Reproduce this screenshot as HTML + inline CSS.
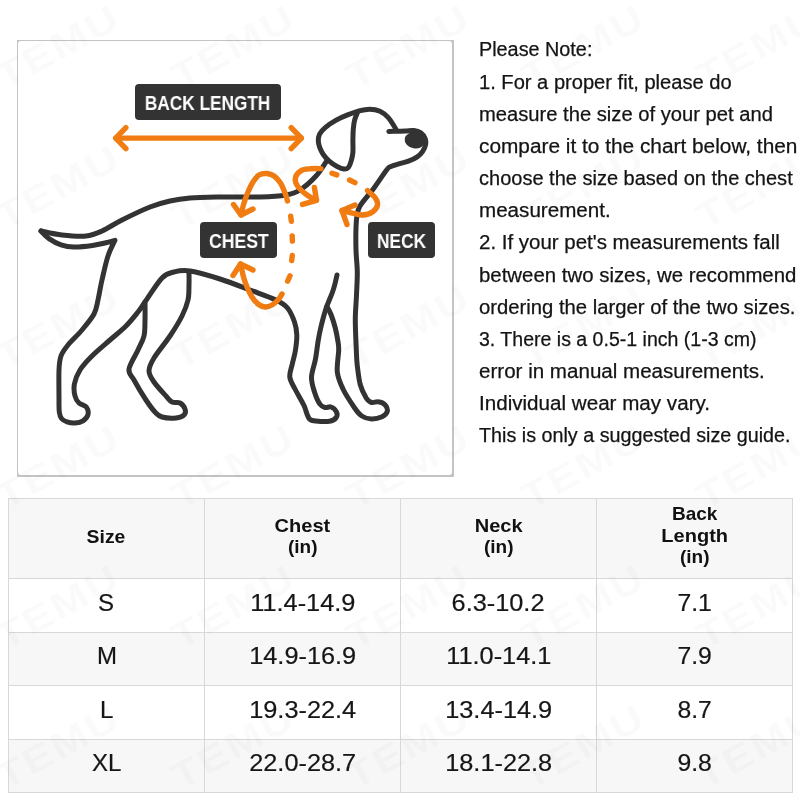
<!DOCTYPE html>
<html>
<head>
<meta charset="utf-8">
<title>Size guide</title>
<style>
html,body{margin:0;padding:0;}
body{width:800px;height:800px;position:relative;overflow:hidden;background:#fff;font-family:"Liberation Sans",sans-serif;color:#1f1f1f;}
#wm{position:absolute;left:0;top:0;width:800px;height:800px;z-index:5;pointer-events:none;}
#box{position:absolute;left:17px;top:40px;width:437px;height:437px;background:#c4c4c4;}
#box i{position:absolute;left:1px;top:1px;right:2px;bottom:2px;background:#fff;border-radius:3px;}
#art{position:absolute;left:0;top:0;width:800px;height:480px;}
.lb{position:absolute;background:#333;border-radius:4px;color:#fff;font-weight:bold;text-align:center;white-space:nowrap;}
.lb span{display:inline-block;transform-origin:50% 50%;will-change:transform;}
.note{position:absolute;left:479px;white-space:nowrap;font-size:19.5px;line-height:32px;height:32px;color:#141414;-webkit-text-stroke:0.25px #141414;}
.note span{display:inline-block;transform-origin:0 50%;will-change:transform;}
#tbl{position:absolute;left:8px;top:498px;width:785px;height:295px;background:#d8d8d8;}
.c{position:absolute;box-sizing:border-box;text-align:center;color:#161616;white-space:nowrap;}
.c span{display:inline-block;transform-origin:50% 50%;will-change:transform;}
.h{font-weight:bold;line-height:22px;color:#111;}
.d{-webkit-text-stroke:0.2px #161616;}
</style>
</head>
<body>
<div id="box"><i></i></div>
<svg id="art" viewBox="0 0 800 480">
<g fill="none" stroke="#333" stroke-width="5" stroke-linecap="round" stroke-linejoin="round">
<path d="M41.0,231.0 C44.5,231.7 54.5,234.2 62.0,235.0 C69.5,235.8 79.3,236.7 86.0,236.0 C92.7,235.3 96.0,233.7 102.0,231.0 C108.0,228.3 114.0,224.0 122.0,220.0 C130.0,216.0 142.0,210.2 150.0,207.0 C158.0,203.8 163.3,202.5 170.0,201.0 C176.7,199.5 181.7,198.7 190.0,198.0 C198.3,197.3 208.3,197.2 220.0,197.0 C231.7,196.8 249.0,197.3 260.0,197.0 C271.0,196.7 279.3,196.2 286.0,195.0 C292.7,193.8 295.0,193.2 300.0,190.0 C305.0,186.8 311.7,180.7 316.0,176.0 C320.3,171.3 324.3,164.3 326.0,162.0"/>
<path d="M41.0,231.0 C42.3,232.3 45.7,236.3 49.0,238.6 C52.3,240.9 56.8,243.4 61.0,244.8 C65.2,246.2 68.8,246.9 74.0,247.0 C79.2,247.1 87.3,246.2 92.5,245.5 C97.7,244.8 101.2,243.9 105.0,243.0 C108.8,242.1 113.3,240.8 115.0,240.3 C113.8,242.9 110.2,249.4 108.0,256.0 C105.8,262.6 103.7,272.7 102.0,280.0 C100.3,287.3 99.3,294.3 98.0,300.0 C96.7,305.7 96.7,309.0 94.0,314.0 C91.3,319.0 86.3,324.8 82.0,330.0 C77.7,335.2 71.5,340.7 68.0,345.0 C64.5,349.3 62.5,351.8 61.0,356.0 C59.5,360.2 59.3,362.7 59.0,370.0 C58.7,377.3 59.0,393.0 59.0,400.0 C59.0,407.0 58.9,408.9 59.3,412.0 C59.7,415.1 60.2,416.9 61.5,418.5 C62.8,420.1 64.8,421.1 67.0,421.8 C69.2,422.6 72.3,423.2 75.0,423.0 C77.7,422.8 80.8,422.2 83.0,420.8 C85.2,419.4 87.5,416.8 88.0,414.5 C88.5,412.2 87.8,408.9 86.3,407.0 C84.8,405.1 80.9,404.8 79.0,403.0 C77.1,401.2 75.8,399.2 75.0,396.0 C74.2,392.8 73.6,388.3 74.4,384.0 C75.2,379.7 77.1,374.7 80.0,370.0 C82.9,365.3 87.0,361.0 92.0,356.0 C97.0,351.0 104.3,345.0 110.0,340.0 C115.7,335.0 121.3,330.7 126.0,326.0 C130.7,321.3 134.8,316.0 138.0,312.0 C141.2,308.0 141.0,307.7 145.0,302.0 C149.0,296.3 157.2,283.0 162.0,278.0 C166.8,273.0 169.3,273.2 174.0,272.0 C178.7,270.8 182.3,269.8 190.0,271.0 C197.7,272.2 210.0,275.8 220.0,279.0 C230.0,282.2 240.7,286.5 250.0,290.0 C259.3,293.5 269.8,297.0 276.0,300.0 C282.2,303.0 284.4,304.3 287.5,308.0 C290.6,311.7 292.9,317.5 294.5,322.0 C296.1,326.5 296.6,330.3 296.8,335.0 C297.0,339.7 296.2,345.2 295.5,350.0 C294.8,354.8 293.3,359.5 292.3,364.0 C291.3,368.5 289.3,372.8 289.8,377.0 C290.2,381.2 292.6,384.2 295.0,389.0 C297.4,393.8 301.9,401.0 304.0,405.5 C306.1,410.0 306.4,413.5 307.8,416.0 C309.1,418.5 308.6,419.6 312.2,420.5 C315.9,421.4 325.5,421.8 329.5,421.2 C333.5,420.8 335.1,419.1 336.2,417.5 C337.4,415.9 337.1,413.2 336.2,411.5 C335.4,409.8 332.9,407.7 331.0,407.0 C329.1,406.3 326.9,408.0 325.0,407.5 C323.1,407.0 321.5,406.6 319.8,404.0 C318.0,401.4 315.9,396.5 314.5,392.0 C313.1,387.5 311.3,382.5 311.5,377.0 C311.7,371.5 314.4,365.2 315.5,359.0 C316.6,352.8 317.4,345.2 318.3,340.0 C319.2,334.8 319.8,331.8 320.7,328.0 C321.6,324.2 322.5,320.5 323.5,317.0 C324.5,313.5 325.5,309.9 326.5,307.0 C327.5,304.1 328.5,302.1 329.5,299.5 C330.5,296.9 331.8,294.2 332.7,291.5 C333.6,288.8 334.5,285.8 335.2,283.0 C335.9,280.2 336.7,276.3 337.0,275.0"/>
<path d="M145.0,302.0 C145.0,305.0 145.2,314.3 145.0,320.0 C144.8,325.7 145.2,331.0 144.0,336.0 C142.8,341.0 140.5,344.5 138.0,350.0 C135.5,355.5 129.7,364.0 129.0,369.0 C128.3,374.0 131.2,374.8 134.0,380.0 C136.8,385.2 142.5,394.7 146.0,400.0 C149.5,405.3 152.3,409.2 155.0,412.0 C157.7,414.8 158.5,416.0 162.0,417.0 C165.5,418.0 172.3,418.3 176.0,418.0 C179.7,417.7 182.5,416.5 184.0,415.0 C185.5,413.5 185.7,411.0 185.0,409.0 C184.3,407.0 182.2,404.2 180.0,403.0 C177.8,401.8 174.3,403.2 172.0,402.0 C169.7,400.8 169.0,399.3 166.0,396.0 C163.0,392.7 156.8,386.2 154.0,382.0 C151.2,377.8 149.0,375.0 149.0,371.0 C149.0,367.0 150.5,363.8 154.0,358.0 C157.5,352.2 165.3,343.0 170.0,336.0 C174.7,329.0 179.0,322.0 182.0,316.0 C185.0,310.0 186.8,305.2 188.0,300.0 C189.2,294.8 188.8,289.5 189.0,285.0 C189.2,280.5 189.0,275.0 189.0,273.0"/>
<path d="M327.0,306.5 C327.7,307.8 329.6,310.9 331.0,314.5 C332.4,318.1 334.2,323.8 335.3,328.0 C336.4,332.2 337.1,336.3 337.7,340.0 C338.3,343.7 338.8,344.7 338.7,350.0 C338.6,355.3 336.6,365.5 337.3,372.0 C338.0,378.5 340.1,382.9 343.0,389.0 C345.9,395.1 351.9,404.0 355.0,408.5 C358.1,413.0 359.0,414.2 361.8,416.0 C364.5,417.8 368.1,418.9 371.5,419.0 C374.9,419.1 379.4,418.0 382.0,416.8 C384.6,415.5 386.8,413.5 387.2,411.5 C387.8,409.5 386.5,406.4 385.0,404.8 C383.5,403.1 380.5,402.1 378.2,401.8 C376.0,401.4 373.5,403.1 371.5,402.5 C369.5,401.9 368.1,401.0 366.2,398.0 C364.4,395.0 361.8,390.0 360.2,384.5 C358.8,379.0 357.9,370.8 357.2,365.0 C356.6,359.2 356.6,357.5 356.3,350.0 C356.0,342.5 355.3,329.2 355.3,320.0 C355.3,310.8 356.2,303.0 356.5,295.0 C356.8,287.0 357.4,279.5 357.3,272.0 C357.2,264.5 356.2,257.3 356.0,250.0 C355.8,242.7 355.8,233.7 356.0,228.0 C356.2,222.3 356.3,219.7 357.0,216.0 C357.7,212.3 357.2,210.7 360.0,206.0 C362.8,201.3 369.6,194.0 374.0,188.0 C378.4,182.0 383.8,173.6 386.6,170.0 C389.4,166.4 388.9,167.5 391.0,166.5 C393.1,165.5 396.0,164.8 398.9,163.9 C401.8,163.0 405.4,162.4 408.5,161.2 C411.6,160.1 414.9,158.5 417.2,156.9 C419.6,155.3 421.1,153.7 422.5,151.6 C423.9,149.5 425.2,146.8 425.6,144.6 C426.0,142.4 425.9,140.5 425.1,138.5 C424.3,136.5 422.6,134.1 420.8,132.8 C418.9,131.5 416.4,130.9 413.8,130.6 C411.1,130.3 409.2,130.8 405.0,131.0 C400.8,131.2 391.5,131.4 388.8,131.5"/>
<path d="M396.5,130.5 C396.1,129.8 395.4,128.2 394.0,126.0 C392.6,123.8 390.6,120.1 388.3,117.6 C386.0,115.1 383.1,112.6 380.0,111.2 C376.9,109.8 373.0,109.2 369.5,109.2 C366.0,109.2 362.6,110.0 359.0,110.9 C355.4,111.9 351.4,113.4 347.6,114.9 C343.8,116.4 339.8,118.1 336.2,120.1 C332.6,122.1 328.5,124.8 325.8,127.1 C323.0,129.4 320.8,131.8 319.6,134.1 C318.4,136.4 318.3,138.9 318.3,141.1 C318.3,143.3 318.8,145.0 319.6,147.2 C320.4,149.4 321.5,151.9 323.1,154.2 C324.7,156.5 326.9,159.2 329.2,161.2 C331.6,163.3 334.6,165.2 337.1,166.5 C339.6,167.8 342.2,168.9 344.1,169.1 C346.0,169.2 347.3,168.7 348.5,167.4 C349.7,166.1 350.4,163.7 351.1,161.2 C351.8,158.8 352.6,156.1 352.9,152.5 C353.2,148.9 352.8,143.3 352.9,139.4 C353.0,135.5 353.0,132.1 353.3,128.9 C353.6,125.7 353.9,122.8 354.6,120.1 C355.3,117.4 357.0,113.8 357.5,112.6"/>
<ellipse cx="414.9" cy="140.3" rx="10.3" ry="8.1" transform="rotate(10 414.9 140.3)" fill="#333" stroke="none"/>
</g>
<g fill="none" stroke="#f07c12" stroke-width="5.4" stroke-linecap="round" stroke-linejoin="round">
<path d="M115.7,138.1 L301.4,138.1"/>
<path d="M125.9,127.6 L115.7,138.1 L125.9,148.6"/>
<path d="M291.2,127.6 L301.4,138.1 L291.2,148.6"/>
<path d="M287.5,201.0 C287.1,199.7 286.2,196.0 285.0,193.0 C283.8,190.0 282.3,185.8 280.5,183.0 C278.7,180.2 276.2,177.6 274.0,176.0 C271.8,174.4 269.5,173.7 267.0,173.5 C264.5,173.3 261.3,173.6 259.0,175.0 C256.7,176.4 254.8,179.2 253.0,182.0 C251.2,184.8 249.5,188.5 248.0,192.0 C246.5,195.5 245.2,199.2 244.0,203.0 C242.8,206.8 241.5,213.0 241.0,215.0"/>
<path d="M233.5,204.5 L241.0,215.0 L253.0,209.0"/>
<path d="M290.7,216.1 L291.3,221.3"/>
<path d="M292.2,235.9 L292.4,241.1"/>
<path d="M292.3,255.4 L291.7,260.6"/>
<path d="M290.0,275.9 L287.6,281.1"/>
<path d="M282.0,294.0 C281.3,295.0 279.7,298.2 278.0,300.0 C276.3,301.8 274.2,303.8 272.0,305.0 C269.8,306.2 267.3,307.2 265.0,307.0 C262.7,306.8 260.2,305.7 258.0,304.0 C255.8,302.3 253.8,299.8 252.0,297.0 C250.2,294.2 248.4,290.3 247.0,287.0 C245.6,283.7 244.4,280.2 243.5,277.0 C242.6,273.8 242.0,270.2 241.5,268.0 C241.0,265.8 240.7,264.7 240.5,264.0"/>
<path d="M233.0,275.5 L240.5,264.0 L253.0,270.0"/>
<path d="M321.0,168.6 C319.2,168.6 313.3,168.4 310.0,168.8 C306.7,169.1 303.6,169.2 301.2,170.6 C298.9,172.0 296.3,174.5 295.6,176.9 C294.9,179.3 295.5,182.4 296.9,185.0 C298.3,187.6 301.2,190.3 303.8,192.5 C306.2,194.7 309.8,196.8 311.9,198.1 C314.0,199.4 315.7,199.9 316.5,200.3"/>
<path d="M314.4,187.5 L316.5,200.3 L302.5,204.4"/>
<path d="M332.0,173.2 L336.8,174.9"/>
<path d="M349.5,180.0 L355.0,182.6"/>
<path d="M367.5,190.6 C368.8,191.8 373.3,195.1 375.0,197.5 C376.7,199.9 377.9,202.6 377.5,205.0 C377.1,207.4 375.0,210.2 372.5,211.9 C370.0,213.6 365.8,214.8 362.5,215.0 C359.2,215.2 355.9,213.8 352.5,213.1 C349.1,212.3 343.8,210.9 342.0,210.5"/>
<path d="M355.0,205.0 L342.0,210.5 L347.0,224.5"/>
</g>
</svg>

<div class="lb" style="left:134.5px;top:84px;width:146.5px;height:36px;line-height:38px;font-size:19.4px;"><span style="transform:scaleX(0.889)">BACK LENGTH</span></div>
<div class="lb" style="left:200.3px;top:222px;width:76.5px;height:35.8px;line-height:38.5px;font-size:19.4px;"><span style="transform:scaleX(0.91)">CHEST</span></div>
<div class="lb" style="left:367.6px;top:222px;width:67.5px;height:35.8px;line-height:38.5px;font-size:19.4px;"><span style="transform:scaleX(0.895)">NECK</span></div>

<div class="note" style="top:33.40px"><span id="n0" style="transform:scaleX(1.0156)">Please Note:</span></div>
<div class="note" style="top:65.57px"><span id="n1" style="transform:scaleX(1.0312)">1. For a proper fit, please do</span></div>
<div class="note" style="top:97.74px"><span id="n2" style="transform:scaleX(1.0349)">measure the size of your pet and</span></div>
<div class="note" style="top:129.91px"><span id="n3" style="transform:scaleX(1.0681)">compare it to the chart below, then</span></div>
<div class="note" style="top:162.08px"><span id="n4" style="transform:scaleX(1.0261)">choose the size based on the chest</span></div>
<div class="note" style="top:194.25px"><span id="n5" style="transform:scaleX(1.0566)">measurement.</span></div>
<div class="note" style="top:226.42px"><span id="n6" style="transform:scaleX(1.0495)">2. If your pet&#39;s measurements fall</span></div>
<div class="note" style="top:258.59px"><span id="n7" style="transform:scaleX(1.0459)">between two sizes, we recommend</span></div>
<div class="note" style="top:290.76px"><span id="n8" style="transform:scaleX(1.0388)">ordering the larger of the two sizes.</span></div>
<div class="note" style="top:322.93px"><span id="n9" style="transform:scaleX(1.0015)">3. There is a 0.5-1 inch (1-3 cm)</span></div>
<div class="note" style="top:355.10px"><span id="n10" style="transform:scaleX(1.0548)">error in manual measurements.</span></div>
<div class="note" style="top:387.27px"><span id="n11" style="transform:scaleX(1.0569)">Individual wear may vary.</span></div>
<div class="note" style="top:419.44px"><span id="n12" style="transform:scaleX(1.0119)">This is only a suggested size guide.</span></div>
<div id="tbl">
<div class="c" style="left:1px;top:1px;width:195px;height:79px;background:#f7f7f7"></div>
<div class="c h" style="left:1px;top:27.70px;width:195px;height:22px;font-size:19.0px"><span id="h0_0" style="transform:scaleX(1.0200)">Size</span></div>
<div class="c" style="left:197px;top:1px;width:195px;height:79px;background:#f7f7f7"></div>
<div class="c h" style="left:197px;top:16.95px;width:195px;height:22px;font-size:19.0px"><span id="h1_0" style="transform:scaleX(1.0550)">Chest</span></div>
<div class="c h" style="left:197px;top:38.45px;width:195px;height:22px;font-size:19.0px"><span id="h1_1" style="transform:scaleX(1.0000)">(in)</span></div>
<div class="c" style="left:393px;top:1px;width:195px;height:79px;background:#f7f7f7"></div>
<div class="c h" style="left:393px;top:16.95px;width:195px;height:22px;font-size:19.0px"><span id="h2_0" style="transform:scaleX(1.0550)">Neck</span></div>
<div class="c h" style="left:393px;top:38.45px;width:195px;height:22px;font-size:19.0px"><span id="h2_1" style="transform:scaleX(1.0000)">(in)</span></div>
<div class="c" style="left:589px;top:1px;width:195px;height:79px;background:#f7f7f7"></div>
<div class="c h" style="left:589px;top:5.40px;width:195px;height:22px;font-size:19.0px"><span id="h3_0" style="transform:scaleX(1.0000)">Back</span></div>
<div class="c h" style="left:589px;top:26.90px;width:195px;height:22px;font-size:19.0px"><span id="h3_1" style="transform:scaleX(1.0550)">Length</span></div>
<div class="c h" style="left:589px;top:48.40px;width:195px;height:22px;font-size:19.0px"><span id="h3_2" style="transform:scaleX(1.0000)">(in)</span></div>
<div class="c" style="left:1px;top:81px;width:195px;height:53px;background:#ffffff"></div>
<div class="c d" style="left:1px;top:90.90px;width:195px;height:28px;line-height:28px;font-size:24.0px"><span id="d1_0" style="transform:scaleX(1.0000)">S</span></div>
<div class="c" style="left:197px;top:81px;width:195px;height:53px;background:#ffffff"></div>
<div class="c d" style="left:197px;top:90.90px;width:195px;height:28px;line-height:28px;font-size:24.0px"><span id="d1_1" style="transform:scaleX(1.0550)">11.4-14.9</span></div>
<div class="c" style="left:393px;top:81px;width:195px;height:53px;background:#ffffff"></div>
<div class="c d" style="left:393px;top:90.90px;width:195px;height:28px;line-height:28px;font-size:24.0px"><span id="d1_2" style="transform:scaleX(1.0550)">6.3-10.2</span></div>
<div class="c" style="left:589px;top:81px;width:195px;height:53px;background:#ffffff"></div>
<div class="c d" style="left:589px;top:90.90px;width:195px;height:28px;line-height:28px;font-size:24.0px"><span id="d1_3" style="transform:scaleX(1.0300)">7.1</span></div>
<div class="c" style="left:1px;top:135px;width:195px;height:52px;background:#f7f7f7"></div>
<div class="c d" style="left:1px;top:144.40px;width:195px;height:28px;line-height:28px;font-size:24.0px"><span id="d2_0" style="transform:scaleX(1.0000)">M</span></div>
<div class="c" style="left:197px;top:135px;width:195px;height:52px;background:#f7f7f7"></div>
<div class="c d" style="left:197px;top:144.40px;width:195px;height:28px;line-height:28px;font-size:24.0px"><span id="d2_1" style="transform:scaleX(1.0550)">14.9-16.9</span></div>
<div class="c" style="left:393px;top:135px;width:195px;height:52px;background:#f7f7f7"></div>
<div class="c d" style="left:393px;top:144.40px;width:195px;height:28px;line-height:28px;font-size:24.0px"><span id="d2_2" style="transform:scaleX(1.0550)">11.0-14.1</span></div>
<div class="c" style="left:589px;top:135px;width:195px;height:52px;background:#f7f7f7"></div>
<div class="c d" style="left:589px;top:144.40px;width:195px;height:28px;line-height:28px;font-size:24.0px"><span id="d2_3" style="transform:scaleX(1.0300)">7.9</span></div>
<div class="c" style="left:1px;top:188px;width:195px;height:53px;background:#ffffff"></div>
<div class="c d" style="left:1px;top:197.80px;width:195px;height:28px;line-height:28px;font-size:24.0px"><span id="d3_0" style="transform:scaleX(1.0000)">L</span></div>
<div class="c" style="left:197px;top:188px;width:195px;height:53px;background:#ffffff"></div>
<div class="c d" style="left:197px;top:197.80px;width:195px;height:28px;line-height:28px;font-size:24.0px"><span id="d3_1" style="transform:scaleX(1.0550)">19.3-22.4</span></div>
<div class="c" style="left:393px;top:188px;width:195px;height:53px;background:#ffffff"></div>
<div class="c d" style="left:393px;top:197.80px;width:195px;height:28px;line-height:28px;font-size:24.0px"><span id="d3_2" style="transform:scaleX(1.0550)">13.4-14.9</span></div>
<div class="c" style="left:589px;top:188px;width:195px;height:53px;background:#ffffff"></div>
<div class="c d" style="left:589px;top:197.80px;width:195px;height:28px;line-height:28px;font-size:24.0px"><span id="d3_3" style="transform:scaleX(1.0300)">8.7</span></div>
<div class="c" style="left:1px;top:242px;width:195px;height:52px;background:#f7f7f7"></div>
<div class="c d" style="left:1px;top:251.20px;width:195px;height:28px;line-height:28px;font-size:24.0px"><span id="d4_0" style="transform:scaleX(1.0000)">XL</span></div>
<div class="c" style="left:197px;top:242px;width:195px;height:52px;background:#f7f7f7"></div>
<div class="c d" style="left:197px;top:251.20px;width:195px;height:28px;line-height:28px;font-size:24.0px"><span id="d4_1" style="transform:scaleX(1.0550)">22.0-28.7</span></div>
<div class="c" style="left:393px;top:242px;width:195px;height:52px;background:#f7f7f7"></div>
<div class="c d" style="left:393px;top:251.20px;width:195px;height:28px;line-height:28px;font-size:24.0px"><span id="d4_2" style="transform:scaleX(1.0550)">18.1-22.8</span></div>
<div class="c" style="left:589px;top:242px;width:195px;height:52px;background:#f7f7f7"></div>
<div class="c d" style="left:589px;top:251.20px;width:195px;height:28px;line-height:28px;font-size:24.0px"><span id="d4_3" style="transform:scaleX(1.0300)">9.8</span></div>
</div>
<svg id="wm" viewBox="0 0 800 800"><g font-family="Liberation Sans, sans-serif" font-weight="bold" font-size="37" fill="#000" fill-opacity="0.021" text-anchor="middle"><text transform="translate(57,47) rotate(-29) scale(1.2,1)" x="1" y="13" letter-spacing="2">TEMU</text><text transform="translate(232,47) rotate(-29) scale(1.2,1)" x="1" y="13" letter-spacing="2">TEMU</text><text transform="translate(407,47) rotate(-29) scale(1.2,1)" x="1" y="13" letter-spacing="2">TEMU</text><text transform="translate(582,47) rotate(-29) scale(1.2,1)" x="1" y="13" letter-spacing="2">TEMU</text><text transform="translate(757,47) rotate(-29) scale(1.2,1)" x="1" y="13" letter-spacing="2">TEMU</text><text transform="translate(57,187) rotate(-29) scale(1.2,1)" x="1" y="13" letter-spacing="2">TEMU</text><text transform="translate(232,187) rotate(-29) scale(1.2,1)" x="1" y="13" letter-spacing="2">TEMU</text><text transform="translate(407,187) rotate(-29) scale(1.2,1)" x="1" y="13" letter-spacing="2">TEMU</text><text transform="translate(582,187) rotate(-29) scale(1.2,1)" x="1" y="13" letter-spacing="2">TEMU</text><text transform="translate(757,187) rotate(-29) scale(1.2,1)" x="1" y="13" letter-spacing="2">TEMU</text><text transform="translate(57,327) rotate(-29) scale(1.2,1)" x="1" y="13" letter-spacing="2">TEMU</text><text transform="translate(232,327) rotate(-29) scale(1.2,1)" x="1" y="13" letter-spacing="2">TEMU</text><text transform="translate(407,327) rotate(-29) scale(1.2,1)" x="1" y="13" letter-spacing="2">TEMU</text><text transform="translate(582,327) rotate(-29) scale(1.2,1)" x="1" y="13" letter-spacing="2">TEMU</text><text transform="translate(757,327) rotate(-29) scale(1.2,1)" x="1" y="13" letter-spacing="2">TEMU</text><text transform="translate(57,467) rotate(-29) scale(1.2,1)" x="1" y="13" letter-spacing="2">TEMU</text><text transform="translate(232,467) rotate(-29) scale(1.2,1)" x="1" y="13" letter-spacing="2">TEMU</text><text transform="translate(407,467) rotate(-29) scale(1.2,1)" x="1" y="13" letter-spacing="2">TEMU</text><text transform="translate(582,467) rotate(-29) scale(1.2,1)" x="1" y="13" letter-spacing="2">TEMU</text><text transform="translate(757,467) rotate(-29) scale(1.2,1)" x="1" y="13" letter-spacing="2">TEMU</text><text transform="translate(57,607) rotate(-29) scale(1.2,1)" x="1" y="13" letter-spacing="2">TEMU</text><text transform="translate(232,607) rotate(-29) scale(1.2,1)" x="1" y="13" letter-spacing="2">TEMU</text><text transform="translate(407,607) rotate(-29) scale(1.2,1)" x="1" y="13" letter-spacing="2">TEMU</text><text transform="translate(582,607) rotate(-29) scale(1.2,1)" x="1" y="13" letter-spacing="2">TEMU</text><text transform="translate(757,607) rotate(-29) scale(1.2,1)" x="1" y="13" letter-spacing="2">TEMU</text><text transform="translate(57,747) rotate(-29) scale(1.2,1)" x="1" y="13" letter-spacing="2">TEMU</text><text transform="translate(232,747) rotate(-29) scale(1.2,1)" x="1" y="13" letter-spacing="2">TEMU</text><text transform="translate(407,747) rotate(-29) scale(1.2,1)" x="1" y="13" letter-spacing="2">TEMU</text><text transform="translate(582,747) rotate(-29) scale(1.2,1)" x="1" y="13" letter-spacing="2">TEMU</text><text transform="translate(757,747) rotate(-29) scale(1.2,1)" x="1" y="13" letter-spacing="2">TEMU</text></g></svg>
</body>
</html>
